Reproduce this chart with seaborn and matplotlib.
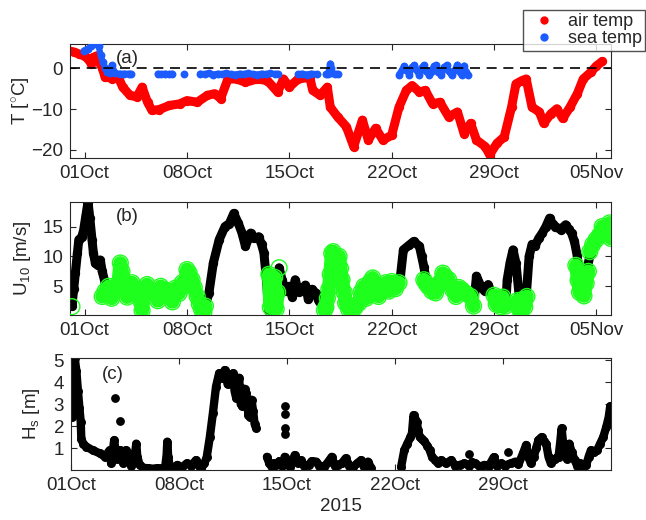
import numpy as np
import pandas as pd
import matplotlib
matplotlib.use("Agg")
import matplotlib.pyplot as plt
import matplotlib.dates as mdates
from matplotlib.lines import Line2D
import seaborn as sns

START = pd.Timestamp("2015-10-01")
nan = np.nan

# ---- (a) temperatures: days after 01 Oct 2015, deg C ----
air_day = [-1.05, -0.7, -0.36, 0.0, 0.24, 0.45, 0.6, 0.83, 1.0, 1.2, 1.4, 1.55, 1.9, 2.26, 2.6,
           3.1, 3.57, 3.93, 4.3, 4.6, 5.1, 5.8, 6.5, 7.0, 7.7, 8.4, 8.9, 9.3, 9.8, 10.4,
           11.0, 11.8, 12.5, 13.2, 13.6, 14.0, 14.6, 15.4, 15.6, 16.1, 16.6, 16.8, 17.3, 17.9, 18.4,
           19.0, 19.4, 19.9, 20.4, 21.0, 21.5, 22.0, 22.4, 22.9, 23.3, 23.8, 24.3, 24.9, 25.5,
           25.95, 26.4, 26.8, 27.4, 27.7, 28.2, 28.7, 29.2, 29.5, 29.9, 30.2, 30.6, 31.1, 31.4,
           31.9, 32.3, 32.7, 33.2, 33.7, 34.1, 34.6, 35.0, 35.4]
air_temp = [4.3, 4.0, 3.5, 3.0, 2.3, 1.2, 2.7, 3.1, 1.5, 0.2, -2.2, -2.0, -2.6, -1.8, -4.6,
            -6.6, -7.0, -4.6, -8.3, -10.3, -10.1, -9.1, -8.7, -7.9, -8.3, -6.6, -6.2, -7.4, -2.6, -2.6,
            -3.4, -2.6, -3.0, -5.8, -2.6, -4.6, -2.6, -2.2, -5.4, -6.6, -4.6, -9.5, -11.9, -14.3, -19.2,
            -12.7, -17.6, -14.7, -17.6, -16.4, -9.5, -5.4, -4.2, -5.8, -5.4, -8.7, -8.3, -11.9, -10.7,
            -16.0, -13.5, -17.6, -19.2, -21.2, -18.4, -16.8, -9.5, -3.8, -3.0, -2.6, -9.5, -10.7, -13.5,
            -11.1, -9.9, -12.3, -9.5, -6.2, -2.6, -1.0, 0.6, 1.7]

sea_day = [-0.05, 0.2, 0.45, 0.75, 0.95, 1.1, 1.25, 1.4, 1.55, 1.75, 1.85, 2.1, 2.4, 2.7, 3.0, 3.15, nan,
           5.0, 5.25, 5.5, 5.75, 6.0, nan,
           6.8, nan,
           7.9, 8.2, 8.5, 8.8, 9.1, 9.4, 9.7, 10.0, 10.3, 10.6, 10.9, 11.2, 11.5, 11.8, 12.1, 12.4,
           12.7, 13.0, 13.2, nan,
           14.6, 14.9, 15.2, 15.5, 15.9, nan,
           16.5, 16.65, 16.75, 16.8, 16.85, 16.95, 17.1, 17.3, nan,
           21.5, 21.7, 21.85, 22.0, 22.2, 22.4, 22.55, 22.7, 22.9, 23.05, 23.2, 23.35, 23.55, 23.7,
           23.9, 24.05, 24.2, 24.4, 24.6, 24.75, 24.9, 25.1, 25.3, 25.5, 25.65, 25.8, 25.95, 26.1, 26.2]
sea_temp = [4.4, 4.8, 5.4, 6.0, 5.6, 3.2, 1.5, 0.2, -0.8, -1.1, 0.8, -1.2, -1.3, -1.3, -1.3, -1.3, nan,
            -1.3, -1.4, -1.3, -1.4, -1.3, nan,
            -1.3, nan,
            -1.3, -1.4, -1.2, -1.5, -1.3, -1.4, -1.2, -1.4, -1.5, -1.3, -1.4, -1.2, -1.4, -1.5, -1.3, -1.4,
            -1.2, -1.4, -1.3, nan,
            -1.4, -1.3, -1.5, -1.3, -1.4, nan,
            -1.4, -1.3, 0.2, 1.2, 0.2, -1.2, -1.4, -1.3, nan,
            -1.5, -0.5, 0.6, -0.2, -1.6, 0.3, 0.8, -0.5, -1.7, 0.2, 0.8, -0.6, -1.6, -0.8,
            0.6, 0.8, -1.0, -1.7, 0.3, 0.8, -0.7, -1.7, -0.5, 0.9, -0.8, -1.7, 0.7, -1.0, -1.6]

# ---- (b) 10 m wind speed [m/s] ----
wind_day = [-1.05, -0.95, -0.87, -0.75, -0.64, -0.5, -0.4, -0.2, -0.07, 0.1, 0.23, 0.35, 0.5, 0.6,
            0.73, 0.9, 1.07, 1.2, 1.4, 1.55, 1.64, 2.1, 2.44, 2.67, 3.24, 3.7, 3.93, 4.1, 4.27, 4.84,
            5.5, 6.2, 6.67, 7.0, 7.35, 7.7, 8.0, 8.26, 8.5, 8.8, 9.2, 9.6, 9.9, 10.2, 10.5, 10.75,
            11.0, 11.35, 11.6, 11.9, 12.1, 12.26, 12.4, 12.5, 12.6, 12.75, 12.9, 13.05, 13.2, 13.3,
            13.5, 13.75, 14.0, 14.2, 14.4, 14.65, 14.9, 15.1, 15.3, 15.55, 15.8, 16.0, 16.25, 16.45,
            16.6, 16.7, 16.8, 16.95, 17.1, 17.4, 17.6, 17.85, 18.05, 18.3, 18.5, 18.76, 18.9, 19.1,
            19.4, 19.7, 19.9, 20.1, 20.35, 20.6, 20.8, 21.0, 21.25, 21.5, 21.6, 21.8, 22.2, 22.5,
            22.9, 23.05, 23.2, 23.35, 23.5, 23.75, 24.0, 24.25, 24.5, 24.7, 24.9, 25.15, 25.4, 25.6,
            25.8, 26.1, 26.4, 26.6, 26.8, 27.1, 27.35, 27.6, 27.9, 28.1, 28.4, 28.6, 28.8, 28.9,
            29.1, 29.3, 29.5, 29.7, 29.8, 30.0, 30.2, 30.4, 30.6, 30.8, 31.05, 31.3, 31.55, 31.8,
            32.0, 32.2, 32.55, 32.9, 33.1, 33.3, 33.5, 33.7, 33.8, 33.9, 34.05, 34.2, 34.3, 34.4,
            34.6, 34.8, 34.98, 35.2, 35.4, 35.65, 35.9, 36.0]
wind_speed = [6.5, 4.0, 1.7, 4.5, 7.2, 10.5, 12.8, 13.2, 14.4, 17.0, 19.1, 16.5, 12.8, 10.5,
              8.9, 8.5, 9.4, 7.5, 5.6, 3.5, 5.0, 4.4, 8.5, 5.0, 5.6, 4.5, 1.7, 4.8, 5.3, 3.9,
              4.4, 4.7, 5.6, 7.8, 6.1, 3.3, 1.1, 1.7, 3.9, 8.9, 12.8, 15.0, 15.5, 17.2, 15.6, 14.0,
              11.7, 13.9, 13.0, 13.3, 12.0, 10.6, 7.0, 3.9, 0.8, 5.0, 2.0, 6.0, 1.5, 8.1,
              6.1, 4.2, 5.0, 3.2, 6.1, 4.0, 4.4, 5.2, 2.8, 4.5, 3.9, 2.6, 1.7, 1.1,
              2.0, 3.3, 6.0, 10.8, 9.5, 10.0, 6.1, 2.2, 1.2, 0.8, 1.5, 2.2, 4.0, 5.0,
              3.5, 6.4, 4.8, 3.3, 4.5, 5.6, 4.2, 5.8, 4.6, 5.6, 6.7, 11.1, 11.9, 12.5,
              11.7, 10.0, 8.3, 6.1, 5.0, 4.2, 3.9, 5.5, 7.2, 6.5, 6.1, 4.5, 3.3, 4.8,
              4.4, 3.8, 3.3, 1.7, 6.7, 5.0, 4.2, 5.3, 3.3, 2.2, 2.8, 3.6, 1.7, 6.1,
              9.0, 11.1, 8.9, 3.9, 1.1, 2.0, 3.3, 10.0, 12.0, 11.7, 13.0, 13.9, 15.0, 16.4,
              15.5, 15.0, 14.5, 15.3, 14.6, 13.9, 12.5, 10.0, 7.5, 5.6, 4.5, 3.3, 5.5, 8.3,
              10.6, 12.0, 12.8, 13.5, 15.0, 14.2, 15.6, 13.0]

green_day = [-0.87, nan,
             1.2, 1.4, 1.64, 1.85, 2.1, 2.3, 2.44, 2.55, 2.67, 2.9, 3.24, 3.5, 3.7, 3.85, 3.93, 4.05,
             4.27, 4.5, 4.84, 5.0, 5.2, 5.5, 5.8, 6.0, 6.2, 6.45, 6.67, 6.85, 7.0, 7.15, 7.35, 7.5,
             7.7, 7.85, 8.0, 8.15, 8.26, nan,
             12.6, 12.7, 12.8, 12.9, 13.0, 13.1, 13.2, nan,
             13.3, nan,
             16.4, 16.5, 16.6, 16.7, 16.8, 16.9, 17.0, 17.1, 17.25, 17.4, 17.5, 17.6, 17.75, 17.85,
             18.05, 18.3, 18.5, 18.76, 18.9, 19.1, 19.25, 19.4, 19.55, 19.7, 19.9, 20.1, 20.35, 20.6,
             20.8, 21.0, 21.25, 21.5, nan,
             23.2, 23.35, 23.5, 23.75, 24.0, 24.25, 24.5, 24.7, 24.9, 25.15, 25.4, 25.6, 25.8, 26.1,
             26.4, 26.6, nan,
             28.0, 28.15, 28.3, 28.45, 28.6, 28.8, nan,
             29.6, 29.75, 29.85, 29.95, 30.1, 30.25, nan,
             33.6, 33.75, 33.85, 34.0, 34.15, 34.3, 34.45, nan,
             34.55, 34.75, 34.98, 35.2, 35.4, 35.65, 35.9, 36.0]
green_speed = [1.6, nan,
               3.3, 4.2, 5.0, 3.0, 4.4, 5.5, 8.9, 7.5, 5.0, 3.2, 5.6, 3.8, 4.5, 2.5, 0.9, 3.5,
               5.3, 4.0, 3.9, 2.6, 5.0, 4.4, 3.5, 2.4, 4.7, 3.8, 5.6, 5.0, 7.8, 7.2, 6.1, 4.8,
               3.3, 2.0, 1.1, 0.6, 1.7, nan,
               7.0, 1.5, 5.5, 2.2, 6.5, 1.2, 4.0, nan,
               8.1, nan,
               1.0, 1.5, 3.0, 4.5, 7.0, 10.5, 10.8, 9.5, 8.0, 10.0, 8.0, 6.1, 4.0, 2.2,
               1.2, 0.8, 1.5, 2.2, 4.0, 5.0, 3.0, 3.5, 5.8, 6.4, 4.8, 3.3, 4.5, 5.6,
               4.2, 5.8, 4.6, 5.6, nan,
               6.1, 5.5, 5.0, 4.2, 3.9, 5.5, 7.2, 6.5, 6.1, 4.5, 3.3, 4.8, 4.4, 3.8,
               3.3, 1.7, nan,
               3.5, 2.0, 3.0, 1.6, 3.2, 1.7, nan,
               2.6, 1.2, 0.6, 2.8, 1.5, 3.3, nan,
               8.5, 6.0, 4.0, 6.8, 3.4, 5.5, 7.5, nan,
               10.8, 12.0, 12.8, 13.5, 15.0, 14.2, 15.6, 13.0]

# ---- (c) significant wave height [m] ----
hs_day = [0.0, 0.05, 0.13, 0.24, 0.35, 0.45, 0.55, 0.63, 0.67, 0.8, 1.0, 1.4, 1.86, 2.2, 2.35, 2.5,
          2.6, 2.7, 2.8, 2.95, 3.05, 3.2, 3.4, 3.55, 3.7, 3.9, 4.1, 4.23, 4.3, 4.45, 4.7, 5.0, 5.3,
          5.6, 5.9, 6.1, 6.2, 6.24, 6.3, 6.4, 6.65, 6.9, 7.2, 7.5, 7.8, 8.1, 8.3, 8.45, 8.65, 8.8,
          9.0, 9.2, 9.4, 9.6, 9.8, 9.96, 10.15, 10.3, 10.5, 10.6, 10.7, 10.9, 11.0, 11.1, 11.25,
          11.35, 11.5, 11.6, 11.7, 11.8, 11.9, 12.0, nan,
          12.7, 12.85, 13.0, 13.15, 13.3, 13.5, 13.7, 13.85, 14.0, 14.2, 14.35, 14.5, 14.7, 14.9,
          15.1, 15.4, 15.6, 15.9, 16.1, 16.4, 16.6, 16.9, 17.1, 17.3, 17.55, 17.8, 18.05, 18.3,
          18.55, 18.8, 19.0, 19.25, 19.45, nan,
          21.4, 21.6, 21.8, 22.0, 22.1, 22.2, 22.3, 22.4, 22.5, 22.6, 22.75, 22.9, 23.1, 23.25,
          23.4, 23.6, 23.8, 24.0, 24.3, 24.65, 24.9, 25.2, 25.5, 25.8, 26.0, 26.2, 26.5, 26.8,
          27.1, 27.4, 27.6, 27.9, 28.1, 28.5, 28.8, 29.0, 29.3, 29.5, 29.65, 29.8, 30.0, 30.15,
          30.3, 30.5, 30.65, 30.8, 30.95, 31.1, 31.35, 31.6, 31.7, 31.8, 31.9, 32.0, 32.15, 32.3,
          32.45, 32.65, 32.8, 33.0, 33.2, 33.4, 33.55, 33.7, 33.9, 34.1, 34.3, 34.5, 34.7, 34.85,
          34.95, 35.05]
hs = [3.0, 2.4, 3.9, 5.1, 4.5, 3.6, 2.8, 2.2, 1.4, 1.2, 1.06, 0.9, 0.76, 0.6, 0.75, 0.9,
      0.3, 0.8, 1.36, 0.5, 0.6, 0.9, 0.3, 0.9, 0.76, 0.2, 0.45, 1.2, 0.6, 0.23, 0.1, 0.08, 0.06,
      0.08, 0.07, 0.1, 0.7, 1.29, 0.6, 0.15, 0.1, 0.23, 0.12, 0.3, 0.2, 0.45, 0.2, 0.08, 0.3, 0.6,
      1.5, 2.6, 3.8, 4.4, 4.2, 4.55, 3.9, 4.1, 4.4, 3.6, 3.3, 4.2, 3.0, 2.9, 3.7,
      3.5, 2.5, 2.4, 3.2, 2.7, 2.1, 1.9, nan,
      0.6, 0.3, 0.15, 0.3, 0.23, 0.4, 0.2, 0.6, 0.3, 0.15, 0.4, 0.68, 0.3, 0.45,
      0.2, 0.23, 0.4, 0.38, 0.2, 0.15, 0.3, 0.6, 0.2, 0.23, 0.3, 0.53, 0.2, 0.15,
      0.3, 0.45, 0.15, 0.38, 0.1, nan,
      0.15, 0.9, 1.2, 1.5, 1.67, 2.5, 2.3, 2.2, 1.8, 1.5, 1.4, 1.3, 1.1, 0.9,
      0.6, 0.45, 0.3, 0.45, 0.3, 0.45, 0.2, 0.23, 0.3, 0.2, 0.35, 0.3, 0.15, 0.23,
      0.2, 0.58, 0.2, 0.3, 0.2, 0.3, 0.38, 0.25, 0.76, 1.14, 0.6, 0.3, 0.6, 1.0,
      1.36, 1.5, 1.3, 1.2, 0.6, 0.3, 0.5, 0.6, 1.2, 1.9, 1.2, 0.9, 0.5, 1.2,
      0.8, 0.45, 0.2, 0.3, 0.15, 0.23, 0.6, 0.9, 0.8, 0.9, 1.2, 1.5, 1.97, 2.4,
      2.9, 2.3]
hs_out_day = [2.83, 3.2, 13.9, 13.9, 13.9, 13.9, 25.8, 28.3, 27.4]
hs_out = [3.26, 2.23, 2.9, 2.55, 1.92, 1.62, 0.73, 0.83, 0.58]

RED = "#ff0000"
BLUE = "#1c5cff"
GREEN = "#1eff1e"
AXC = "#262626"


def to_frame(day, val):
    df = pd.DataFrame({"day": day, "val": val})
    df["seg"] = df["val"].isna().cumsum()
    df = df.dropna().copy()
    df["time"] = START + pd.to_timedelta(df["day"], unit="D")
    return df


def band(ax, df, color, lw, s, zorder):
    sns.lineplot(data=df, x="time", y="val", units="seg", estimator=None, sort=False,
                 color=color, linewidth=lw, solid_capstyle="round", legend=False,
                 ax=ax, zorder=zorder)
    sns.scatterplot(data=df, x="time", y="val", color=color, s=s, linewidth=0,
                    legend=False, ax=ax, zorder=zorder)


sns.set_theme(style="ticks")
plt.rcParams["font.family"] = ["Liberation Sans", "DejaVu Sans"]
plt.rcParams["mathtext.fontset"] = "custom"
plt.rcParams["mathtext.rm"] = "Liberation Sans"
plt.rcParams["mathtext.it"] = "Liberation Sans:italic"
plt.rcParams["axes.edgecolor"] = AXC
plt.rcParams["axes.linewidth"] = 0.8
plt.rcParams["text.color"] = AXC
plt.rcParams["axes.labelcolor"] = AXC
plt.rcParams["xtick.color"] = AXC
plt.rcParams["ytick.color"] = AXC

FS = 13.5
fig = plt.figure(figsize=(6.46, 5.2), dpi=100)
ax_a = fig.add_axes([0.1084, 0.6962, 0.8374, 0.2192])
ax_b = fig.add_axes([0.1084, 0.3942, 0.8374, 0.2173])
ax_c = fig.add_axes([0.1099, 0.0962, 0.8359, 0.2154])

# (a)
band(ax_a, to_frame(air_day, air_temp), RED, 6.5, 45, 2)
band(ax_a, to_frame(sea_day, sea_temp), BLUE, 4.5, 32, 3)
ax_a.axhline(0, color="black", lw=1.2, dashes=(6, 4), zorder=5)
ax_a.set_ylim(-22, 6)
ax_a.set_yticks([-20, -10, 0])
ax_a.set_ylabel("T [$^{\\circ}$C]", fontsize=FS)
ax_a.yaxis.set_label_coords(-0.068, 0.5)
ax_a.text(0.085, 0.87, "(a)", transform=ax_a.transAxes, fontsize=FS, va="center", ha="left")

# (b)
band(ax_b, to_frame(wind_day, wind_speed), "black", 6.5, 45, 2)
gdf = to_frame(green_day, green_speed)
sns.lineplot(data=gdf, x="time", y="val", units="seg", estimator=None, sort=False,
             color=GREEN, linewidth=10, solid_capstyle="round", legend=False, ax=ax_b, zorder=3)
ax_b.scatter(gdf["time"], gdf["val"], s=130, facecolors="none", edgecolors=GREEN,
             linewidths=1.0, zorder=4)
ax_b.set_ylim(0.2, 19.1)
ax_b.set_yticks([5, 10, 15])
ax_b.set_ylabel("U$_{10}$ [m/s]", fontsize=FS)
ax_b.yaxis.set_label_coords(-0.068, 0.5)
ax_b.text(0.085, 0.876, "(b)", transform=ax_b.transAxes, fontsize=FS, va="center", ha="left")

# (c)
band(ax_c, to_frame(hs_day, hs), "black", 6.0, 42, 2)
odf = to_frame(hs_out_day, hs_out)
sns.scatterplot(data=odf, x="time", y="val", color="black", s=40, linewidth=0,
                legend=False, ax=ax_c, zorder=3)
ax_c.set_ylim(0, 5.1)
ax_c.set_yticks([1, 2, 3, 4, 5])
ax_c.set_ylabel("H$_\\mathrm{s}$ [m]", fontsize=FS)
ax_c.yaxis.set_label_coords(-0.054, 0.5)
ax_c.set_xlabel("2015", fontsize=FS, labelpad=3)
ax_c.text(0.057, 0.85, "(c)", transform=ax_c.transAxes, fontsize=FS, va="center", ha="left")

fmt = mdates.DateFormatter("%d%b")
for ax in (ax_a, ax_b):
    ax.set_xlim(START - pd.Timedelta(days=1), START + pd.Timedelta(days=36))
    ax.set_xticks([START + pd.Timedelta(days=k) for k in (0, 7, 14, 21, 28, 35)])
    ax.set_xlabel("")
ax_c.set_xlim(START, START + pd.Timedelta(days=35))
ax_c.set_xticks([START + pd.Timedelta(days=k) for k in (0, 7, 14, 21, 28)])

for ax in (ax_a, ax_b, ax_c):
    ax.xaxis.set_major_formatter(fmt)
    ax.tick_params(direction="in", top=True, right=True, length=4, width=0.8,
                   labelsize=FS, pad=5)
    for sp in ax.spines.values():
        sp.set_visible(True)
        sp.set_color(AXC)
        sp.set_linewidth(0.8)

handles = [Line2D([], [], ls="none", marker="o", ms=5, color=RED),
           Line2D([], [], ls="none", marker="o", ms=5, color=BLUE)]
leg = fig.legend(handles, ["air temp", "sea temp"], loc="upper right",
                 bbox_to_anchor=(0.999, 0.981), fontsize=13, frameon=True, fancybox=False,
                 borderpad=0.2, labelspacing=0.0, handletextpad=0.3, handlelength=2.0,
                 borderaxespad=0)
leg.get_frame().set_edgecolor(AXC)
leg.get_frame().set_linewidth(1.0)

fig.savefig("out.png", dpi=100, facecolor="white")
